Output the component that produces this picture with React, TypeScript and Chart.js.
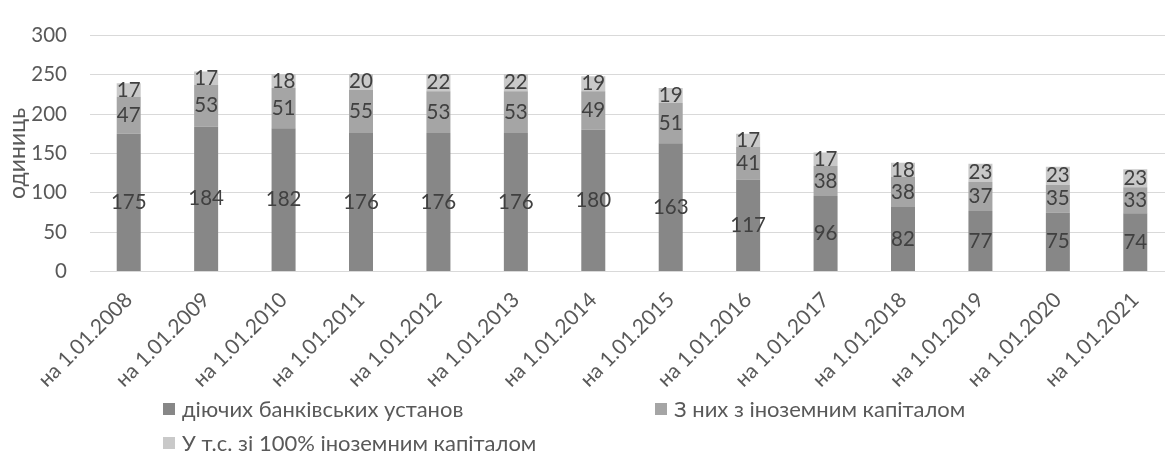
import React, { useEffect, useRef } from "react";
import { Chart, registerables } from "chart.js";

Chart.register(...registerables);

const categories = [
  "на 1.01.2008", "на 1.01.2009", "на 1.01.2010", "на 1.01.2011", "на 1.01.2012",
  "на 1.01.2013", "на 1.01.2014", "на 1.01.2015", "на 1.01.2016", "на 1.01.2017",
  "на 1.01.2018", "на 1.01.2019", "на 1.01.2020", "на 1.01.2021",
];
const activeBanks = [175, 184, 182, 176, 176, 176, 180, 163, 117, 96, 82, 77, 75, 74];
const foreignCapital = [47, 53, 51, 55, 53, 53, 49, 51, 41, 38, 38, 37, 35, 33];
const fullForeign = [17, 17, 18, 20, 22, 22, 19, 19, 17, 17, 18, 23, 23, 23];
const seriesNames = [
  "діючих банківських установ",
  "З них з іноземним капіталом",
  "У т.с. зі 100% іноземним капіталом",
];
const seriesColors = ["#878787", "#a5a5a5", "#c9c9c9"];
const yTicks = [0, 50, 100, 150, 200, 250, 300];
const yTitle = "одиниць";

const FONT = "Lato, 'Open Sans', sans-serif";

const labelPlugin = {
  id: "barLabels",
  afterDatasetsDraw(chart: any) {
    const ctx = chart.ctx;
    ctx.save();
    ctx.font = `20.5px ${FONT}`;
    ctx.fillStyle = "#404040";
    ctx.textAlign = "center";
    ctx.textBaseline = "middle";
    chart.data.datasets.forEach((ds: any, di: number) => {
      const meta = chart.getDatasetMeta(di);
      meta.data.forEach((el: any, i: number) => {
        const v = ds.data[i];
        const cy = (el.y + el.base) / 2;
        ctx.fillText(String(v), el.x, cy);
      });
    });
    ctx.restore();
  },
};

export default function App() {
  const ref = useRef<HTMLCanvasElement>(null);
  useEffect(() => {
    const canvas = ref.current!;
    const values = [activeBanks, foreignCapital, fullForeign];
    const chart = new Chart(canvas, {
      type: "bar",
      data: {
        labels: categories,
        datasets: values.map((d, i) => ({
          label: seriesNames[i],
          data: d,
          backgroundColor: seriesColors[i],
          borderWidth: 0,
          categoryPercentage: 1,
          barPercentage: 0.31,
        })),
      },
      options: {
        animation: false,
        responsive: false,
        maintainAspectRatio: false,
        layout: { padding: { top: 24, right: 6, left: 0, bottom: 0 } },
        plugins: { legend: { display: false }, tooltip: { enabled: false } },
        scales: {
          x: {
            stacked: true,
            grid: { display: false, drawTicks: false },
            border: { display: true, color: "#d9d9d9", width: 1 },
            ticks: {
              color: "#595959",
              font: { family: FONT, size: 21 },
              minRotation: 45,
              maxRotation: 45,
              padding: 16,
              autoSkip: false,
            },
            afterFit: (s: any) => { s.height = 181.5; },
          },
          y: {
            stacked: true,
            min: 0,
            max: 300,
            afterBuildTicks: (s: any) => { s.ticks = yTicks.map((v) => ({ value: v })); },
            grid: { color: "#d9d9d9", drawTicks: false, lineWidth: 1 },
            border: { display: false },
            ticks: {
              color: "#595959",
              font: { family: FONT, size: 20.5 },
              padding: 23,
            },
            title: {
              display: true,
              text: yTitle,
              color: "#595959",
              font: { family: FONT, size: 23 },
              padding: { top: 4, bottom: 0 },
            },
            afterFit: (s: any) => { s.width = 90; },
          },
        },
      },
      plugins: [labelPlugin],
    });
    return () => chart.destroy();
  }, []);

  const legendItem = (i: number, left: number, top: number) => (
    <div
      key={i}
      style={{
        position: "absolute",
        left,
        top,
        display: "flex",
        alignItems: "center",
        fontFamily: FONT,
        fontSize: 22,
        color: "#595959",
        whiteSpace: "nowrap",
        lineHeight: "22px",
      }}
    >
      <span style={{ display: "inline-block", width: 12, height: 12, background: seriesColors[i], marginRight: 7 }} />
      {seriesNames[i]}
    </div>
  );

  return (
    <div style={{ position: "fixed", left: 0, top: 0, width: 1165, height: 453, overflow: "hidden", background: "#fff" }}>
      <canvas ref={ref} width={1180} height={453} style={{ display: "block", width: 1180, height: 453 }} />
      {legendItem(0, 163, 398)}
      {legendItem(1, 655, 398)}
      {legendItem(2, 163, 432)}
    </div>
  );
}
